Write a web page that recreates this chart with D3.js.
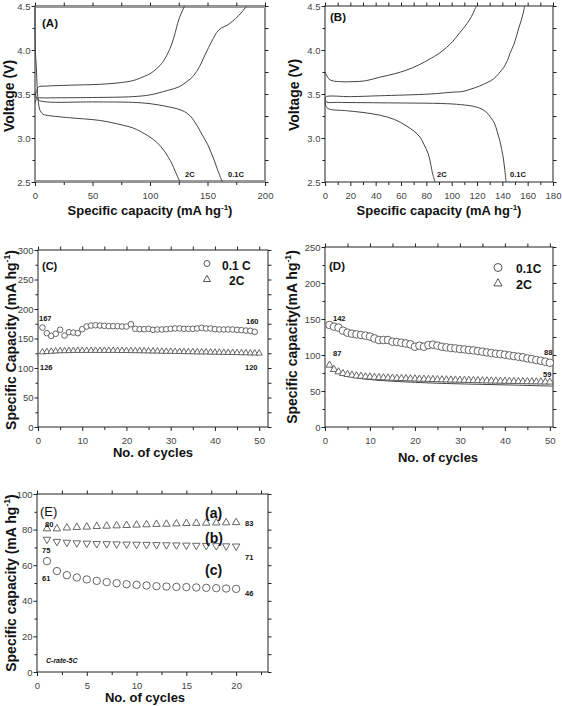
<!DOCTYPE html>
<html><head><meta charset="utf-8">
<script src="https://cdn.jsdelivr.net/npm/d3@7"></script>
<style>body{margin:0;background:#fff}svg{display:block}text{font-family:Arial,"Liberation Sans",sans-serif}</style>
</head><body>
<svg id="c" width="562" height="706"></svg>
<script>
// ---------- Panel A: charge/discharge curves [capacity, voltage] ----------
const A_charge01 = [[0,3.40],[2,3.45],[10,3.455],[50,3.46],[85,3.47],[100,3.49],[115,3.54],[125,3.58],[132,3.64],[138,3.71],[143,3.81],[147,3.92],[151,4.03],[155,4.13],[158,4.2],[162,4.25],[167,4.28],[172,4.33],[177,4.39],[181,4.45],[184,4.5]];
const A_charge2 = [[0,3.45],[1.5,3.54],[3,3.58],[10,3.59],[30,3.6],[56,3.61],[75,3.63],[86,3.655],[95,3.7],[100,3.73],[106,3.79],[111,3.86],[115,3.95],[119,4.07],[122,4.2],[124,4.3],[126,4.38],[128,4.44],[130,4.5]];
const A_dis01 = [[0,3.52],[1,3.47],[3,3.43],[10,3.41],[50,3.41],[85,3.405],[100,3.39],[114,3.36],[124,3.33],[130,3.3],[135,3.25],[138,3.2],[141,3.14],[144,3.07],[147,3.0],[150,2.93],[153,2.84],[156,2.74],[159,2.63],[162,2.53],[163,2.5]];
const A_dis2 = [[0,4.5],[0.3,4.0],[1.2,3.8],[2,3.55],[3,3.4],[4.5,3.31],[7,3.27],[12,3.255],[30,3.23],[56,3.2],[75,3.15],[86,3.11],[95,3.05],[100,3.01],[106,2.95],[112,2.86],[116,2.78],[119,2.71],[122,2.62],[124,2.56],[126,2.5]];
const A_limits = [4.49, 2.51];
const A_labels = ["2C", "0.1C"];
// ---------- Panel B ----------
const B_charge2 = [[0,3.75],[1,3.72],[4,3.66],[12,3.64],[22,3.64],[32,3.65],[43,3.69],[55,3.73],[64,3.77],[74,3.83],[83,3.9],[90,3.96],[96,4.03],[101,4.1],[106,4.19],[110,4.26],[114,4.34],[117,4.42],[119.5,4.5]];
const B_charge01 = [[0,3.45],[1,3.47],[20,3.47],[43,3.48],[83,3.5],[100,3.52],[109,3.53],[116,3.56],[122,3.59],[128,3.63],[133,3.67],[137,3.73],[141,3.8],[144,3.88],[146,3.96],[149,4.06],[151,4.15],[153,4.25],[155,4.34],[156.5,4.42],[157.6,4.5]];
const B_dis01 = [[0,3.45],[1,3.41],[10,3.405],[43,3.4],[96,3.39],[110,3.375],[117,3.36],[122,3.34],[127,3.3],[131,3.23],[134,3.16],[136,3.07],[138,2.97],[139.5,2.87],[141,2.75],[142,2.63],[143,2.5]];
const B_dis2 = [[0,3.42],[0.8,3.36],[3,3.33],[17,3.31],[30,3.29],[43,3.26],[55,3.21],[64,3.14],[70,3.08],[75,3.01],[78,2.93],[81.5,2.82],[83.5,2.7],[85,2.59],[87,2.5]];
// ---------- Panel C: cycling ----------
const C_cycles01 = [1,2,3,4,5,6,7,8,9,10,11,12,13,14,15,16,17,18,19,20,21,22,23,24,25,26,27,28,29,30,31,32,33,34,35,36,37,38,39,40,41,42,43,44,45,46,47,48,49];
const C_cap01 = [168.6,159,154.5,158,164.7,155,160.7,160,159,165.8,170.3,172,172.5,172,171.4,170.9,170.9,170.9,170.3,170.3,174.2,166.4,165.8,165.8,166.4,164.7,165.3,165.3,165.8,166.4,167,167,166.4,166.4,166.4,167,168,167,167,165.8,165.3,165.3,165.3,165.3,164.7,164.2,163.5,163,161.3];
const C_cycles2 = [1,2,3,4,5,6,7,8,9,10,11,12,13,14,15,16,17,18,19,20,21,22,23,24,25,26,27,28,29,30,31,32,33,34,35,36,37,38,39,40,41,42,43,44,45,46,47,48,49,50];
const C_cap2 = [127,127.5,128,128.5,129,129,129.2,129.4,129.5,129.5,129.5,129.5,129.5,129.5,129.5,129.5,129.5,129.5,129.3,129.3,129.2,129,129,128.8,128.7,128.5,128.4,128.2,128,128,127.8,127.7,127.5,127.3,127.2,127,127,126.8,126.7,126.5,126.4,126.2,126,126,125.8,125.6,125.5,125.3,125.2,125];
// ---------- Panel D ----------
const D_cycles = [1,2,3,4,5,6,7,8,9,10,11,12,13,14,15,16,17,18,19,20,21,22,23,24,25,26,27,28,29,30,31,32,33,34,35,36,37,38,39,40,41,42,43,44,45,46,47,48,49,50];
const D_cap01 = [141.7,139.4,138,133.8,131,129.6,128.7,127.8,126.9,125.5,123,120.8,120.8,120.8,118.5,118,117,116,114.8,111.5,113,111.5,113.8,114.3,113,111.5,110.6,109.7,109.2,108.3,107.8,106.9,106.4,105.5,104.6,103.6,102.7,101.8,101.3,100.4,99.4,98.5,97.6,96.7,95.3,94.3,92.9,92,90.6,89.2];
const D_cap2 = [86,80,76.7,74.3,73,72,71,70.5,69.7,69.5,69,68.7,68.4,68.1,67.8,67.6,67.4,67.2,67,66.8,66.6,66.4,66.2,66,65.8,65.6,65.5,65.3,65.2,65,64.9,64.7,64.6,64.4,64.3,64.1,64,63.9,63.7,63.6,63.5,63.3,63.2,63.1,63,62.9,62.8,62.7,62.6,62.5];
const D_fit2 = [[0.5,87],[1,85],[2,79.5],[3,75.5],[5,71],[8,67.5],[12,64.8],[18,62.6],[27,60.4],[35,59.2],[42,58.2],[50,56.9],[50.6,56.8]];
// ---------- Panel E ----------
const E_cycles = [1,2,3,4,5,6,7,8,9,10,11,12,13,14,15,16,17,18,19,20];
const E_a = [80.5,80.5,81,81.3,81.5,81.8,82,82.2,82.4,82.6,82.8,83,83.1,83.3,83.5,83.6,83.7,83.8,83.9,84];
const E_b = [74.5,73.3,72.8,72.5,72.3,72.1,72,71.9,71.8,71.7,71.6,71.5,71.4,71.3,71.2,71.1,71.0,70.9,70.8,70.7];
const E_c = [62.3,56.7,54.4,53.1,52,51.2,50.5,49.9,49.3,49,48.6,48.2,48,47.8,47.7,47.5,47.3,47.1,46.9,46.7];
// ---------- Tick values ----------
const tA_x = [0,50,100,150,200], tA_xm = [25,75,125,175];
const tV = [2.5,3.0,3.5,4.0,4.5], tVm = [2.75,3.25,3.75,4.25];
const tB_x = [0,20,40,60,80,100,120,140,160,180], tB_xm = [10,30,50,70,90,110,130,150,170];
const tCyc = [0,10,20,30,40,50], tCycm = [5,15,25,35,45];
const tC_y = [0,50,100,150,200,250,300], tC_ym = [25,75,125,175,225,275];
const tD_y = [0,50,100,150,200,250], tD_ym = [25,75,125,175,225];
const tE_x = [0,5,10,15,20], tE_xm = [2.5,7.5,12.5,17.5,22.5];
const tE_y = [0,20,40,60,80,100], tE_ym = [10,30,50,70,90];

const svg = d3.select("#c");

function panel(o){
  const x = d3.scaleLinear().domain(o.xd).range([o.l,o.r]);
  const y = d3.scaleLinear().domain(o.yd).range([o.b,o.t]);
  const g = svg.append("g");
  const ax = (fn, sc, vals, size, pad, fmt, tr) => {
    const a = g.append("g").attr("transform", tr)
      .call(fn(sc).tickValues(vals).tickSize(size).tickSizeOuter(0).tickPadding(pad).tickFormat(fmt || (()=>"")));
    a.select(".domain").remove();
    a.selectAll("line").attr("stroke", "#222").attr("stroke-width", 1);
    a.selectAll("text").attr("font-size", 9.5).attr("fill", "#444").attr("font-family", "Arial");
    return a;
  };
  ax(d3.axisBottom, x, o.xt, 4, 6, o.xf || d3.format("d"), `translate(0,${o.b})`);
  ax(d3.axisBottom, x, o.xm, 3, 0, null, `translate(0,${o.b})`);
  ax(d3.axisTop, x, o.xt.concat(o.xm), 3.5, 0, null, `translate(0,${o.t})`);
  ax(d3.axisLeft, y, o.yt, 3.5, 1, o.yf || d3.format("d"), `translate(${o.l},0)`);
  ax(d3.axisLeft, y, o.ym, 2.5, 0, null, `translate(${o.l},0)`);
  ax(d3.axisRight, y, o.yt.concat(o.ym), 3.5, 0, null, `translate(${o.r},0)`);
  g.append("rect").attr("x", o.l).attr("y", o.t).attr("width", o.r-o.l).attr("height", o.b-o.t)
    .attr("fill", "none").attr("stroke", "#222").attr("stroke-width", 1);
  return {x, y, g};
}

function label(g, txt, cx, cy, size, rot, sup){
  const t = g.append("text").attr("text-anchor", "middle").attr("font-weight", "bold")
    .attr("font-size", size).attr("fill", "#111")
    .attr("transform", `translate(${cx},${cy})` + (rot ? " rotate(-90)" : ""));
  if (sup) {
    t.append("tspan").text(txt);
    t.append("tspan").text("-1").attr("font-size", size*0.62).attr("dy", -size*0.4);
    t.append("tspan").text(")").attr("dy", size*0.4);
  } else t.text(txt);
}
function note(g, txt, x, y, size, opts={}){
  g.append("text").attr("x", x).attr("y", y).text(txt)
    .attr("font-size", size).attr("font-weight", opts.w || "bold").attr("fill", "#111")
    .attr("font-style", opts.i ? "italic" : "normal")
    .attr("font-family", opts.f || "Arial").attr("text-anchor", opts.a || "start");
}
function curves(p, list){
  const line = d3.line().x(d=>p.x(d[0])).y(d=>p.y(d[1])).curve(d3.curveCatmullRom.alpha(0.5));
  list.forEach(d => p.g.append("path").attr("d", line(d)).attr("fill","none").attr("stroke","#444").attr("stroke-width",1));
}
function circles(p, xs, ys, r){
  p.g.append("g").selectAll("circle").data(ys).join("circle")
    .attr("cx", (d,i)=>p.x(xs[i])).attr("cy", d=>p.y(d)).attr("r", r)
    .attr("fill", "#fff").attr("stroke", "#555").attr("stroke-width", 0.9);
}
function tris(p, xs, ys, area, down){
  const sym = d3.symbol(d3.symbolTriangle).size(area);
  p.g.append("g").selectAll("path").data(ys).join("path")
    .attr("d", sym).attr("transform", (d,i)=>`translate(${p.x(xs[i])},${p.y(d)})${down?" rotate(180)":""}`)
    .attr("fill", "#fff").attr("stroke", "#555").attr("stroke-width", 0.9);
}

// ===== Panel A =====
const pA = panel({l:35, r:265, t:6, b:182, xd:[0,200], yd:[2.5,4.5], xt:tA_x, xm:tA_xm, yt:tV, ym:tVm, yf:d3.format(".1f")});
A_limits.forEach(v => pA.g.append("line").attr("x1", pA.x(0)).attr("x2", pA.x(200)).attr("y1", pA.y(v)).attr("y2", pA.y(v)).attr("stroke", "#999").attr("stroke-width", 2));
curves(pA, [A_charge01, A_charge2, A_dis01, A_dis2]);
note(pA.g, "(A)", 42, 27, 11.5);
note(pA.g, A_labels[0], 185, 177, 7.5);
note(pA.g, A_labels[1], 228, 177, 7.5);
label(pA.g, "Specific capacity (mA hg", 150, 215, 13, false, true);
label(pA.g, "Voltage (V)", 14, 96, 14, true);

// ===== Panel B =====
const pB = panel({l:325, r:553, t:6, b:182, xd:[0,180], yd:[2.5,4.5], xt:tB_x, xm:tB_xm, yt:tV, ym:tVm, yf:d3.format(".1f")});
curves(pB, [B_charge2, B_charge01, B_dis01, B_dis2]);
note(pB.g, "(B)", 330, 21, 11.5);
note(pB.g, "2C", 437, 177, 7.5);
note(pB.g, "0.1C", 510, 177, 7.5);
label(pB.g, "Specific capacity (mA hg", 439, 215, 13, false, true);
label(pB.g, "Voltage (V)", 299, 95, 14, true);

// ===== Panel C =====
const pC = panel({l:38, r:268, t:250, b:427, xd:[0,52], yd:[0,300], xt:tCyc, xm:tCycm, yt:tC_y, ym:tC_ym});
tris(pC, C_cycles2, C_cap2, 17, false);
circles(pC, C_cycles01, C_cap01, 2.8);
note(pC.g, "(C)", 42, 270, 11);
note(pC.g, "167", 39, 321, 7.5);
note(pC.g, "160", 246, 324, 7.5);
note(pC.g, "126", 40, 370, 7.5);
note(pC.g, "120", 245, 370, 7.5);
pC.g.append("circle").attr("cx", 207).attr("cy", 263.5).attr("r", 3).attr("fill","#fff").attr("stroke","#555");
pC.g.append("path").attr("d", d3.symbol(d3.symbolTriangle).size(22)).attr("transform","translate(207,279.5)").attr("fill","#fff").attr("stroke","#555");
note(pC.g, "0.1 C", 222, 270, 12);
note(pC.g, "2C", 229, 285, 12);
label(pC.g, "No. of cycles", 153, 457, 13);
label(pC.g, "Specific Capacity (mA hg", 16, 340, 14, true, true);

// ===== Panel D =====
const pD = panel({l:325, r:553, t:247, b:427, xd:[0,50.7], yd:[0,250], xt:tCyc, xm:tCycm, yt:tD_y, ym:tD_ym});
curves(pD, [D_fit2]);
tris(pD, D_cycles, D_cap2, 22, false);
circles(pD, D_cycles, D_cap01, 3.8);
note(pD.g, "(D)", 329, 270, 11.5);
note(pD.g, "142", 333, 321, 7.5);
note(pD.g, "87", 333, 356, 7.5);
note(pD.g, "88", 544, 355, 7.5);
note(pD.g, "59", 543, 377, 7.5);
pD.g.append("circle").attr("cx", 498).attr("cy", 267.5).attr("r", 4).attr("fill","#fff").attr("stroke","#555");
pD.g.append("path").attr("d", d3.symbol(d3.symbolTriangle).size(30)).attr("transform","translate(498,283.5)").attr("fill","#fff").attr("stroke","#555");
note(pD.g, "0.1C", 516, 273, 12);
note(pD.g, "2C", 516, 289, 12.5, {f:"'Liberation Serif','Times New Roman',serif"});
label(pD.g, "No. of cycles", 438, 462, 13);
label(pD.g, "Specific capacity(mA hg", 297, 337, 14, true, true);

// ===== Panel E =====
const pE = panel({l:37, r:268, t:494, b:672, xd:[0,23.2], yd:[0,100], xt:tE_x, xm:tE_xm, yt:tE_y, ym:tE_ym});
tris(pE, E_cycles, E_a, 24, false);
tris(pE, E_cycles, E_b, 24, true);
circles(pE, E_cycles, E_c, 3.7);
note(pE.g, "(E)", 40, 516, 13, {w:"normal"});
note(pE.g, "(a)", 205, 518, 14);
note(pE.g, "(b)", 205, 543, 14);
note(pE.g, "(c)", 205, 575, 14);
note(pE.g, "80", 45, 527, 7.5);
note(pE.g, "83", 245, 526, 7.5);
note(pE.g, "75", 42, 553, 7.5);
note(pE.g, "71", 245, 560, 7.5);
note(pE.g, "61", 42, 581, 7.5);
note(pE.g, "46", 245, 596, 7.5);
note(pE.g, "C-rate-5C", 46, 663, 7, {i:true});
label(pE.g, "No. of cycles", 145, 702, 13);
label(pE.g, "Specific capacity (mA hg", 16, 583, 14, true, true);
</script>
</body></html>
